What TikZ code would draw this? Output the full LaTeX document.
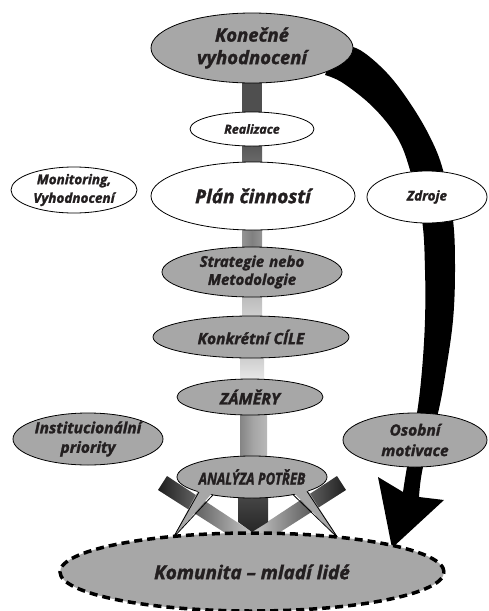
\documentclass[tikz,border=0pt]{standalone}
\usepackage{fontspec}
\setmainfont{Open Sans}[BoldItalicFeatures={FakeBold=1.6}]
\usetikzlibrary{shapes.geometric}
\definecolor{ellgray}{HTML}{A7A7A7}
\definecolor{txt}{HTML}{231F20}
\tikzset{
  ell/.style={ellipse, draw=black, line width=0.8pt, inner sep=0pt},
  grayell/.style={ell, fill=ellgray},
  whiteell/.style={ell, fill=white},
  lbl/.style={text=txt, align=center, inner sep=0pt},
  fsz/.style={font=\fontsize{#1}{#1}\selectfont\bfseries\itshape},
  tail/.style={draw=black, line width=0.8pt},
}
\begin{document}
\begin{tikzpicture}[x=1pt,y=-1pt]
\useasboundingbox (0,0) rectangle (488,611);

% big black arrow
\fill[black] plot[smooth, tension=0.6] coordinates {(338,44)(360,50)(387,73)(410,103)(430,137)(443,170)(453,220)(455,270)(453,320)(446,370)(438,413)(423,467)(419,497)}
  -- (444,500) -- (392,548) -- (378,477) --
  plot[smooth, tension=0.6] coordinates {(403,492)(407,467)(417,413)(422,370)(425,320)(425,270)(422,220)(410,170)(397,137)(373,107)(343,83)(325,75)} -- cycle;

% connecting bars
\fill[black!69] (242,80) rectangle (262,114);
\shade[top color=black!66, bottom color=black!58] (242,144) rectangle (262,164);
\shade[left color=black!42, right color=black!42, middle color=black!50] (242,228) rectangle (262,250);
\shade[top color=black!27, bottom color=black!18] (242,295) rectangle (262,318);
\shade[top color=black!20, bottom color=black!8] (240,356) rectangle (264,382);
\shade[left color=black!48, right color=black!28, middle color=black!35] (240,412) rectangle (267,460);

% diagonal bars
\shade[left color=black!88, right color=black!22] (158,490) -- (167,476) -- (252,532) -- (252,550) -- cycle;
\shade[right color=black!88, left color=black!22] (346,490) -- (337,476) -- (252,532) -- (252,550) -- cycle;
% central dark bar
\shade[top color=black!72, bottom color=black!85] (238,495) -- (268,495) -- (268,522) -- (252,532) -- (238,522) -- cycle;

% ellipses
\node[grayell, minimum width=202, minimum height=70] (kon) at (252,48) {};
\node[whiteell, minimum width=124, minimum height=34] (real) at (252,129) {};
\node[whiteell, minimum width=204, minimum height=68] (plan) at (253,196) {};
\node[whiteell, minimum width=126, minimum height=46] (mon) at (74,190) {};
\node[whiteell, minimum width=120, minimum height=52] (zdr) at (427,197) {};
\node[grayell, minimum width=180, minimum height=50] (strat) at (252,272) {};
\node[grayell, minimum width=196, minimum height=42] (konk) at (251,337) {};
\node[grayell, minimum width=146, minimum height=36] (zam) at (250,397) {};
\node[grayell, minimum width=150, minimum height=52] (inst) at (88,439) {};
\node[grayell, minimum width=144, minimum height=54] (osob) at (415,440) {};
\node[grayell, minimum width=150, minimum height=42] (anal) at (252,477) {};

% callout tails of ANALYZA
\fill[ellgray] (199,489) -- (173,538) -- (213,492) -- cycle;
\fill[ellgray] (293,492) -- (338,538) -- (307,489) -- cycle;
\coordinate (tl) at (173,538);
\coordinate (tr) at (338,538);
\draw[tail] (199,491.9) -- (tl) -- (213,494.9);
\draw[tail] (293,494.6) -- (tr) -- (307,491.3);

% community
\node[ellipse, fill=ellgray, draw=black, line width=3.5pt, dash pattern=on 8pt off 5pt, minimum width=384, minimum height=78, inner sep=0pt] (kom) at (252,572) {};

% labels
\node[lbl, fsz=18.5, text width=200] (kon-t) at (kon) {Konečné\\[4pt]vyhodnocení};
\node[lbl, fsz=12.5] (real-t) at (real) {Realizace};
\node[lbl, fsz=19] (plan-t) at (plan) {Plán činností};
\node[lbl, fsz=13.5, text width=126] (mon-t) at (mon) {Monitoring,\\[4pt]Vyhodnocení};
\node[lbl, fsz=13.5] (zdr-t) at (zdr) {Zdroje};
\node[lbl, fsz=15, text width=180] (strat-t) at (strat) {Strategie nebo\\[3pt]Metodologie};
\node[lbl, fsz=15.5] (konk-t) at (konk) {Konkrétní CÍLE};
\node[lbl, fsz=16] (zam-t) at (zam) {ZÁMĚRY};
\node[lbl, fsz=15.5, text width=150] (inst-t) at (inst) {Institucionální\\[4pt]priority};
\node[lbl, fsz=15.5, text width=144] (osob-t) at (osob) {Osobní\\[5pt]motivace};
\node[lbl, fsz=16.5, xscale=0.8] (anal-t) at (anal) {ANALÝZA POTŘEB};
\node[lbl, fsz=19] (kom-t) at (kom) {Komunita – mladí lidé};
\end{tikzpicture}
\end{document}
